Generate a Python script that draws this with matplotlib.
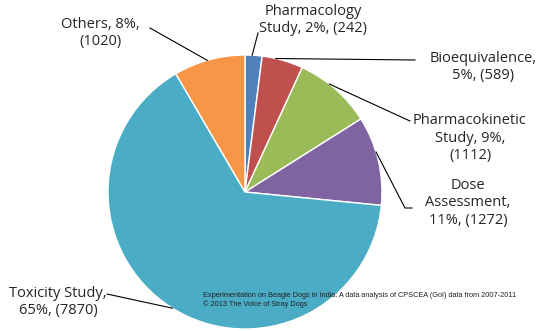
import numpy as np
import matplotlib.pyplot as plt

# CPSCEA beagle dog usage by study type, 2007-2011
labels = ["Pharmacology\nStudy, 2%, (242)", "Bioequivalence,\n5%, (589)",
          "Pharmacokinetic\nStudy, 9%,\n(1112)", "Dose\nAssessment,\n11%, (1272)",
          "Toxicity Study,\n65%, (7870)", "Others, 8%,\n(1020)"]
counts = [242, 589, 1112, 1272, 7870, 1020]
colors = ["#4F81BD", "#C0504D", "#9BBB59", "#8064A2", "#4BACC6", "#F79646"]

plt.rcParams['font.family'] = ['Open Sans', 'DejaVu Sans']

W, H = 538, 331
fig = plt.figure(figsize=(W / 100, H / 100), dpi=100)
ax = fig.add_axes([0, 0, 1, 1])

cx, cy, r = 245, H - 192, 137
wedges, _ = ax.pie(counts, colors=colors, startangle=90, counterclock=False,
                   center=(cx, cy), radius=r, frame=True,
                   wedgeprops=dict(edgecolor='white', linewidth=1))
ax.set_xlim(0, W)
ax.set_ylim(0, H)
ax.set_aspect('equal')
ax.axis('off')

# text position (x, y from top); leader end points; angle where the leader leaves the pie
text_pos = [(313, 20), (483, 67), (470, 138), (468, 203), (58, 302), (100, 33)]
leader_end = [[(258, 33)], [(415, 60)], [(410, 121)],
              [(405, 208), (412, 208)], [(107, 294)], [(150, 28)]]
leader_angle = [87, 77, 52, 17, 238, 106]

for ends, a in zip(leader_end, leader_angle):
    ang = np.deg2rad(a)
    xs = [cx + r * np.cos(ang)] + [e[0] for e in ends]
    ys = [cy + r * np.sin(ang)] + [H - e[1] for e in ends]
    ax.plot(xs, ys, color='black', lw=0.8)

for lab, (tx, ty) in zip(labels, text_pos):
    ax.text(tx, H - ty, lab, ha='center', va='center', fontsize=10.5,
            color='#262626', linespacing=1.2)

ax.text(203, H - 300, "Experimentation on Beagle Dogs in India: A data analysis of CPSCEA (GoI) data from 2007-2011\n"
        "\u00a9 2013 The Voice of Stray Dogs", family='Liberation Sans', fontsize=5.3,
        ha='left', va='center', linespacing=1.1, color='#222222')

fig.savefig("out.png", dpi=100)
